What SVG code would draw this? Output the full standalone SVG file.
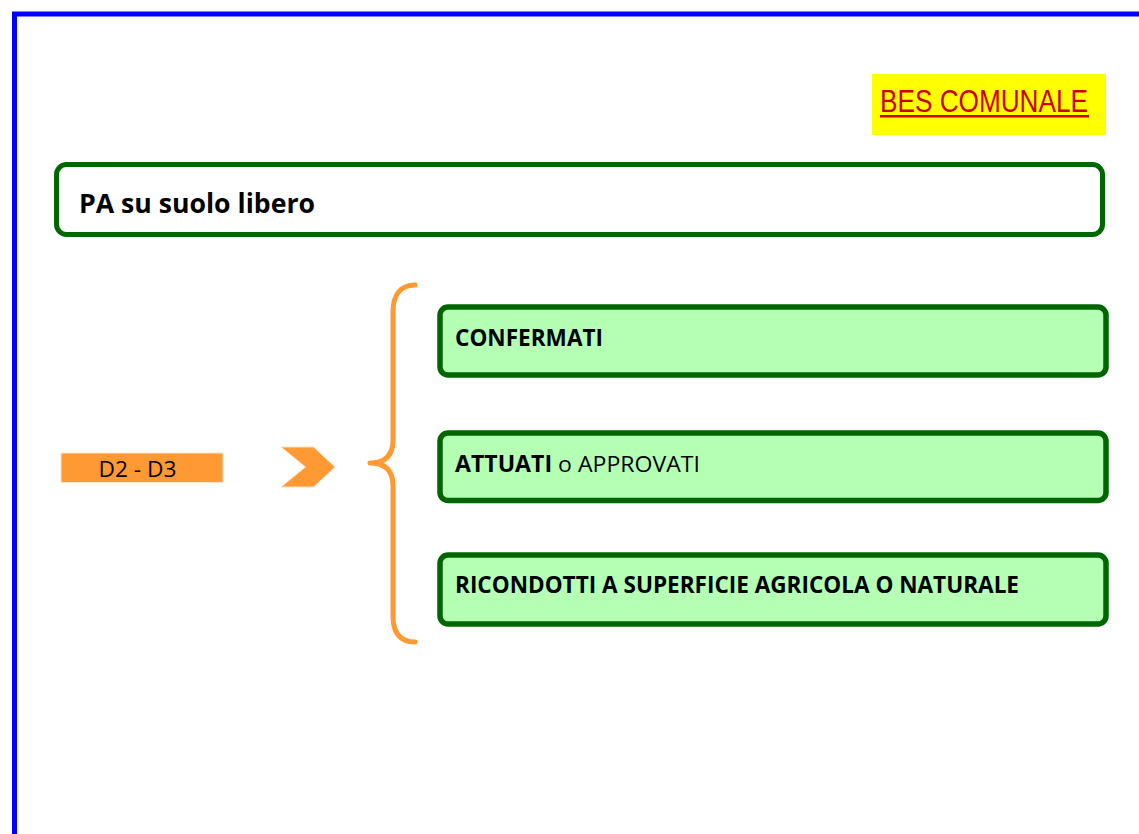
<svg xmlns="http://www.w3.org/2000/svg" width="1139" height="834" viewBox="0 0 1139 834">
<style>
.frame{fill:none;stroke:#0000ff;stroke-width:5}
.hdr{fill:#ffffff;stroke:#006600;stroke-width:5}
.box{fill:#b5ffb5;stroke:#006600;stroke-width:5.5}
.t{font-family:"Open Sans","Noto Sans","Liberation Sans",sans-serif;fill:#000000}
.b{font-weight:bold}
.orange{fill:#ff9933}
</style>
<rect width="1139" height="834" fill="#ffffff"/>
<rect class="frame" x="14.5" y="14" width="1140" height="840"/>

<g id="bes">
<rect x="872" y="74" width="234" height="61" fill="#ffff00"/>
<text x="880" y="112" font-family="'Liberation Sans',Arial,sans-serif" font-size="32" fill="#cc0000" textLength="208" lengthAdjust="spacingAndGlyphs">BES COMUNALE</text>
<line x1="880" y1="116.2" x2="1089" y2="116.2" stroke="#cc0000" stroke-width="2.4"/>
</g>

<g id="pa">
<rect class="hdr" x="56.5" y="164.5" width="1046" height="70" rx="10"/>
<text class="t b" x="79" y="213" font-size="26.5" textLength="236" lengthAdjust="spacingAndGlyphs">PA su suolo libero</text>
</g>

<g id="d2d3">
<rect class="orange" x="61" y="453" width="162" height="29.5" stroke="#ffe6cc" stroke-width="1"/>
<text class="t" x="98.5" y="476.5" font-size="22.5" textLength="78" lengthAdjust="spacingAndGlyphs">D2 - D3</text>
</g>

<g id="connectors">
<polygon class="orange" points="281,447 313.5,447 335,467 313.5,487 281,487 305.5,467" stroke="#ffe0c0" stroke-width="1"/>
<path d="M415,285 C401,285 393,294 393,312 L393,440 C393,455 386,463 370,463 C386,463 393,471 393,486 L393,616 C393,634 401,642 415,642" fill="none" stroke="#ff9933" stroke-width="5" stroke-linecap="round" stroke-linejoin="round"/>
</g>

<g id="confermati">
<rect class="box" x="440" y="307" width="666" height="68" rx="8"/>
<text class="t b" x="455" y="346" font-size="22.5" textLength="148" lengthAdjust="spacingAndGlyphs">CONFERMATI</text>
</g>

<g id="attuati">
<rect class="box" x="440" y="433" width="666" height="67.5" rx="8"/>
<text class="t" x="455" y="471.5" font-size="22.5" textLength="245" lengthAdjust="spacingAndGlyphs"><tspan class="b">ATTUATI</tspan> o APPROVATI</text>
</g>

<g id="ricondotti">
<rect class="box" x="440" y="555" width="666" height="69" rx="8"/>
<text class="t b" x="455" y="593" font-size="22.5" textLength="564" lengthAdjust="spacingAndGlyphs">RICONDOTTI A SUPERFICIE AGRICOLA O NATURALE</text>
</g>
</svg>
